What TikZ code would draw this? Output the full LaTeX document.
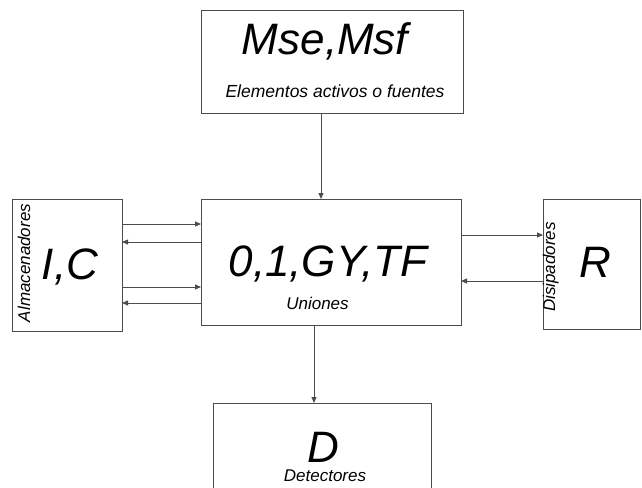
\documentclass[tikz,border=0pt]{standalone}
\usepackage{fontspec}
\setmainfont{Liberation Sans}
\usetikzlibrary{arrows.meta}
\begin{document}
\begin{tikzpicture}[x=1pt,y=-1pt,
  blk/.style={draw=black!70,line width=0.9pt,rectangle,inner sep=0pt,outer sep=0pt},
  arr/.style={draw=black!70,line width=0.8pt,-{Triangle[length=6pt,width=5pt]}},
  big/.style={font=\itshape\fontsize{44}{48}\selectfont,inner sep=0pt,anchor=base},
  small/.style={font=\itshape\fontsize{17.5}{20}\selectfont,inner sep=0pt,anchor=base}]
\clip (0,0) rectangle (642,487);
\fill[white] (0,0) rectangle (642,487);
% boxes
\node[blk,minimum width=262pt,minimum height=103pt] (top) at (332,61.5) {};
\node[blk,minimum width=260pt,minimum height=126pt] (mid) at (331,262) {};
\node[blk,minimum width=110pt,minimum height=132pt] (ic) at (67,265) {};
\node[blk,minimum width=97pt,minimum height=130pt] (r) at (591.5,264) {};
\node[blk,minimum width=218pt,minimum height=100pt] (d) at (322,453) {};
% texts
\node[big] (tmse) at (325,55) {Mse,Msf};
\node[small] (tel) at (335,97) {Elementos activos o fuentes};
\node[big] (tmid) at (328,276) {0,1,GY,TF};
\node[small,font=\itshape\fontsize{17}{20}\selectfont] (tun) at (317.5,309) {Uniones};
\node[big] (tic) at (70,279) {I,C};
\node[small,font=\itshape\fontsize{17}{20}\selectfont,rotate=90] (talm) at (30,263) {Almacenadores};
\node[small,font=\itshape\fontsize{17}{20}\selectfont,rotate=90] (tdis) at (555,267) {Disipadores};
\node[big] (tr) at (595,277) {R};
\node[big] (td) at (323,462) {D};
\node[small,font=\itshape\fontsize{17}{20}\selectfont] (tdet) at (325,481) {Detectores};
% connectors
\draw[arr] ([xshift=-11pt]top.south) -- ([xshift=-10pt]mid.north);
\draw[arr] ([xshift=-17pt]mid.south) -- ([xshift=-8pt]d.north);
\draw[arr] ([yshift=41pt]ic.east) -- ([yshift=38pt]mid.west);
\draw[arr] ([yshift=20pt]mid.west) -- ([yshift=23pt]ic.east);
\draw[arr] ([yshift=-22pt]ic.east) -- ([yshift=-25pt]mid.west);
\draw[arr] ([yshift=-41pt]mid.west) -- ([yshift=-38pt]ic.east);
\draw[arr] ([yshift=27pt]mid.east) -- ([yshift=29pt]r.west);
\draw[arr] ([yshift=-17pt]r.west) -- ([yshift=-19pt]mid.east);
\end{tikzpicture}
\end{document}
